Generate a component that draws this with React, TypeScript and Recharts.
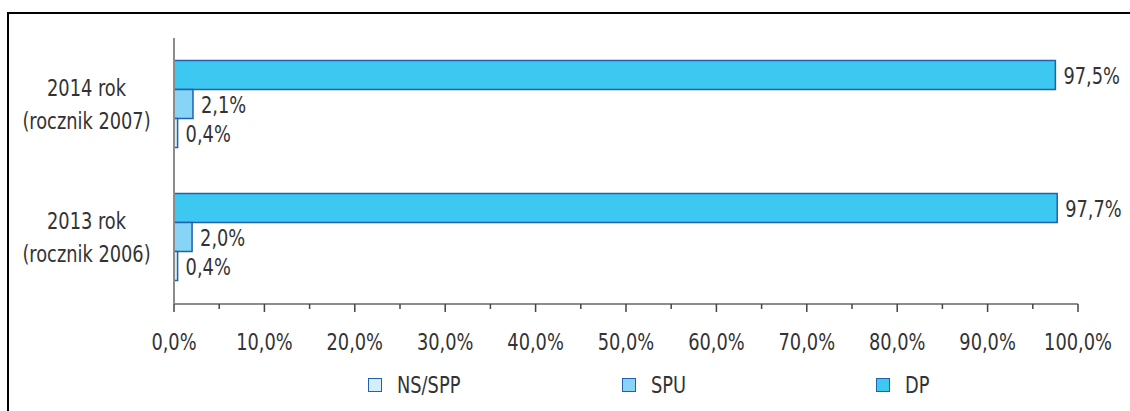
import React from "react";
import { BarChart, Bar, XAxis, YAxis, LabelList, Legend } from "recharts";

// kategorie (od góry)
const years = ["2014 rok", "2013 rok"];
const cohorts = ["(rocznik 2007)", "(rocznik 2006)"];

// wartości w %
const dpValues = [97.5, 97.7];
const spuValues = [2.1, 2.0];
const nsValues = [0.4, 0.4];

const xTicks = [0, 5, 10, 15, 20, 25, 30, 35, 40, 45, 50, 55, 60, 65, 70, 75, 80, 85, 90, 95, 100];
const bandTicks = [0, 1, 2];
const legendOrder = ["NS/SPP", "SPU", "DP"];

const data = years.map((name, i) => ({
  name,
  dp: dpValues[i],
  spu: spuValues[i],
  ns: nsValues[i],
}));

const FONT = "'DejaVu Sans Condensed', 'DejaVu Sans', sans-serif";
const TEXT = "#333333";
const EDGE = "#2360ad";
const AXIS = "#8c8c8c";
const FS = 23;
const SX = 0.86; // czcionka w oryginale jest węższa
const X_TICK_SIZE = 8;
const X_TICK_MARGIN = 22;

const fmt = (v: any) => `${Number(v).toFixed(1).replace(".", ",")}%`;

function NarrowText({ x, y, anchor, children, dy }: any) {
  return (
    <text
      x={x}
      y={y}
      dy={dy}
      textAnchor={anchor}
      fontSize={FS}
      fill={TEXT}
      transform={`translate(${x} 0) scale(${SX} 1) translate(${-x} 0)`}
    >
      {children}
    </text>
  );
}

function CategoryTick(props: any) {
  const { x, y, payload } = props;
  const i = years.indexOf(payload.value);
  const cx = x / 2;
  return (
    <g>
      <NarrowText x={cx} y={y - 8} anchor="middle">{payload.value}</NarrowText>
      <NarrowText x={cx} y={y + 25} anchor="middle">{cohorts[i]}</NarrowText>
    </g>
  );
}

function PercentTick(props: any) {
  const { x, y, payload } = props;
  const v = payload.value;
  const major = v % 10 === 0;
  const axisY = y - X_TICK_SIZE - X_TICK_MARGIN;
  return (
    <g>
      <line x1={x} x2={x} y1={axisY} y2={axisY + (major ? 8 : 5)} stroke="#444" strokeWidth={1.5} />
      {major && (
        <NarrowText x={x} y={y} dy="0.71em" anchor="middle">
          {fmt(v)}
        </NarrowText>
      )}
    </g>
  );
}

function BarValue(props: any) {
  const vb = props.viewBox || props;
  const x = vb.x + vb.width + 8;
  const y = vb.y + vb.height / 2 + 9;
  return (
    <NarrowText x={x} y={y} anchor="start">
      {fmt(props.value)}
    </NarrowText>
  );
}

function LegendBox(props: any) {
  const items = [...(props.payload || [])].sort(
    (a: any, b: any) => legendOrder.indexOf(a.value) - legendOrder.indexOf(b.value)
  );
  return (
    <div style={{ display: "flex", paddingLeft: 368, height: 24, alignItems: "center", fontFamily: FONT }}>
      {items.map((it: any) => (
        <div key={it.value} style={{ width: 266, display: "flex", alignItems: "center" }}>
          <span
            style={{
              display: "inline-block",
              width: 14,
              height: 14,
              boxSizing: "border-box",
              background: it.color,
              border: `1.5px solid ${EDGE}`,
              marginRight: 15,
            }}
          />
          <span
            style={{
              display: "inline-block",
              fontSize: FS,
              color: TEXT,
              lineHeight: "24px",
              transform: `scaleX(${SX})`,
              transformOrigin: "left center",
            }}
          >
            {it.value}
          </span>
        </div>
      ))}
    </div>
  );
}

export default function App() {
  return (
    <div style={{ position: "absolute", left: 0, top: 0, width: 1130, height: 411, fontFamily: FONT, background: "#fff", overflow: "hidden" }}>
      <div
        style={{
          position: "absolute",
          left: 7,
          top: 12,
          width: 1123,
          height: 399,
          boxSizing: "border-box",
          borderTop: "2px solid #000",
          borderLeft: "2px solid #000",
        }}
      />
      <div style={{ position: "absolute", left: 0, top: 0 }}>
        <BarChart
          width={1130}
          height={411}
          data={data}
          layout="vertical"
          barCategoryGap="17%"
          barGap={0}
          margin={{ top: 38, right: 52, bottom: 14, left: 0 }}
        >
          <XAxis
            type="number"
            domain={[0, 100]}
            ticks={xTicks}
            interval={0}
            height={69}
            tickSize={X_TICK_SIZE}
            tickMargin={X_TICK_MARGIN}
            tickLine={false}
            axisLine={{ stroke: AXIS, strokeWidth: 2 }}
            tick={<PercentTick />}
          />
          <YAxis
            yAxisId="ycat"
            type="category"
            dataKey="name"
            width={173}
            tickSize={0}
            tickMargin={0}
            tickLine={false}
            axisLine={false}
            tick={<CategoryTick />}
          />
          <YAxis
            yAxisId="bands"
            type="number"
            domain={[0, 2]}
            allowDataOverflow
            ticks={bandTicks}
            interval={0}
            width={1}
            tick={false}
            tickSize={8}
            axisLine={{ stroke: AXIS, strokeWidth: 2 }}
            tickLine={{ stroke: "#444", strokeWidth: 1.5 }}
          />
          <Legend verticalAlign="bottom" height={24} wrapperStyle={{ left: 0, width: 1130 }} content={<LegendBox />} />
          <Bar yAxisId="ycat" dataKey="dp" name="DP" fill="#3cc8f0" stroke={EDGE} strokeWidth={1.5} isAnimationActive={false}>
            <LabelList dataKey="dp" content={<BarValue />} />
          </Bar>
          <Bar yAxisId="ycat" dataKey="spu" name="SPU" fill="#87d4f6" stroke={EDGE} strokeWidth={1.5} isAnimationActive={false}>
            <LabelList dataKey="spu" content={<BarValue />} />
          </Bar>
          <Bar yAxisId="ycat" dataKey="ns" name="NS/SPP" fill="#d3eef9" stroke={EDGE} strokeWidth={1.5} isAnimationActive={false}>
            <LabelList dataKey="ns" content={<BarValue />} />
          </Bar>
        </BarChart>
      </div>
    </div>
  );
}
